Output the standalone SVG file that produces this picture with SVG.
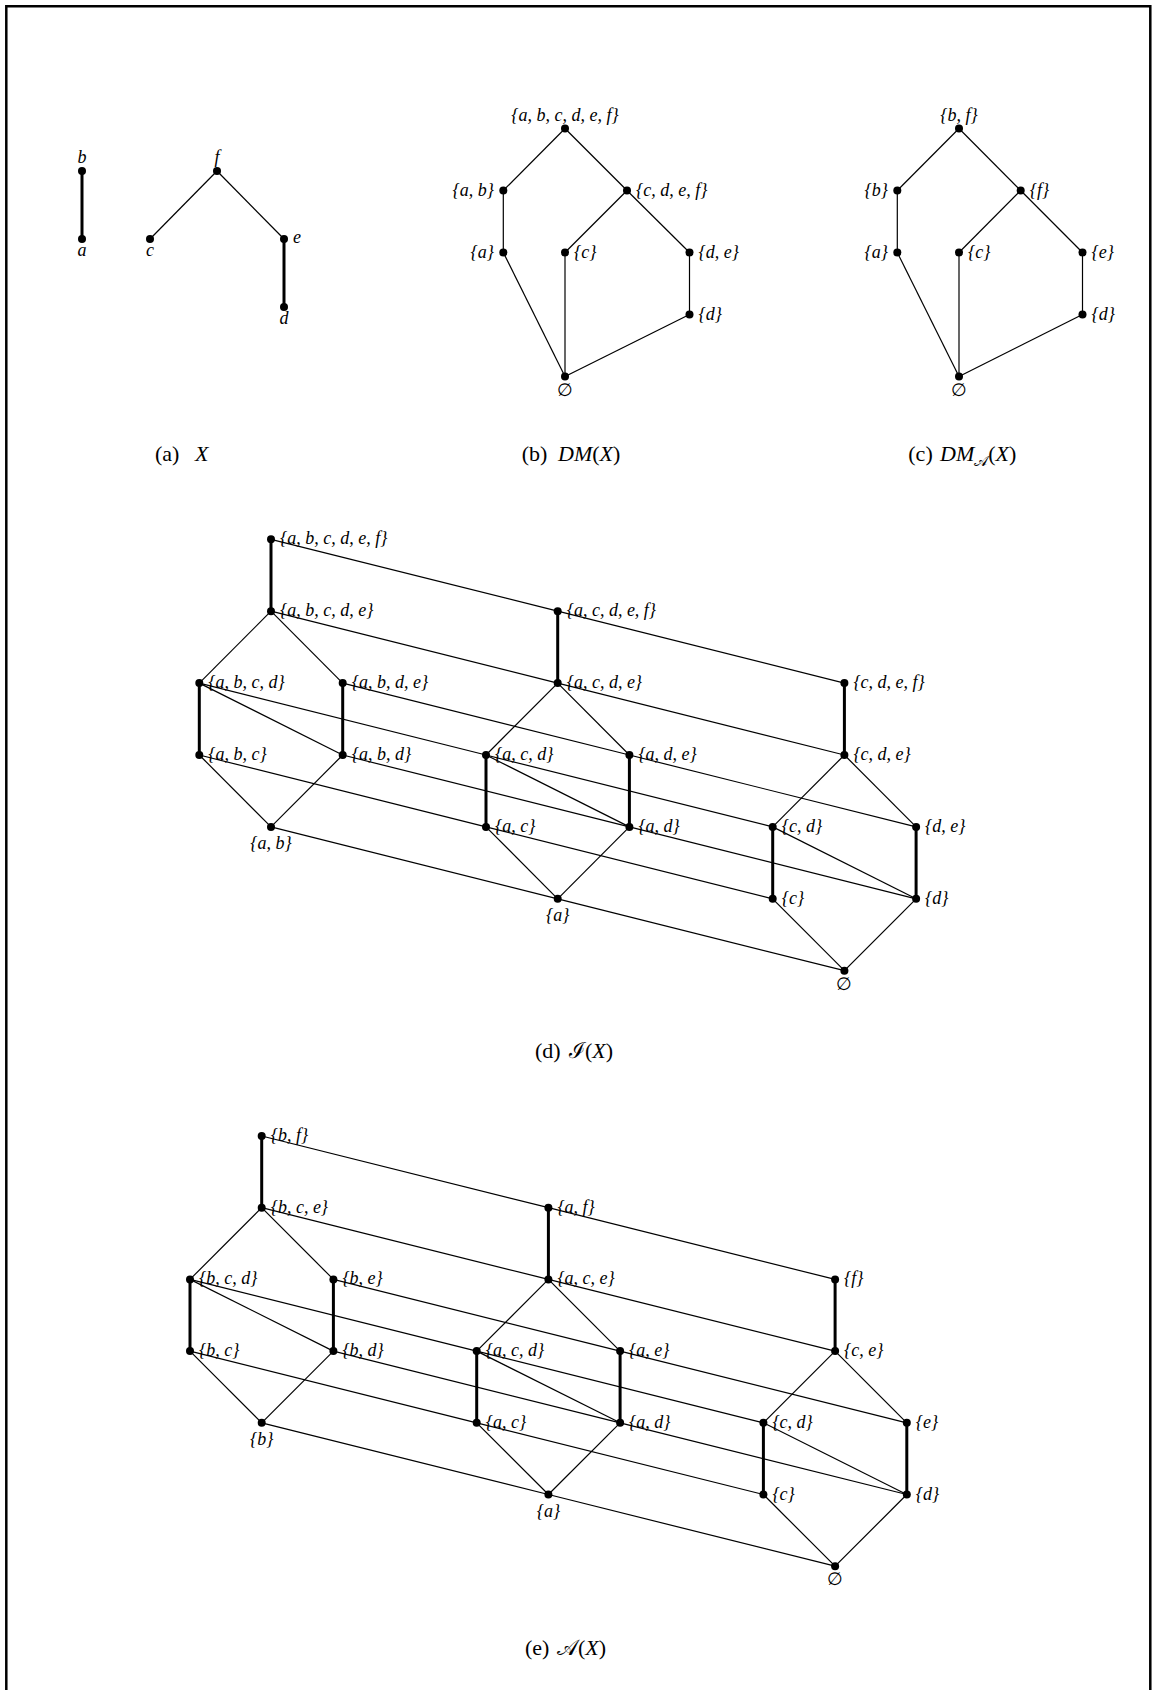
<svg xmlns="http://www.w3.org/2000/svg" width="1156" height="1690" viewBox="0 0 1156 1690">
<style>
.fr{fill:none;stroke:#000;stroke-width:2.5}
.t{stroke:#000;stroke-width:1.2;fill:none}
.k{stroke:#000;stroke-width:3;fill:none}
circle{fill:#000}
text{font-family:"Liberation Serif","DejaVu Serif",serif;fill:#000}
.l{font-size:18px;font-style:italic}
.r{text-anchor:end}
.m{text-anchor:middle}
.e{font-size:18px;font-style:normal}
.cap{font-size:22px}
.i{font-style:italic}
.s{font-size:15px}
</style>
<rect width="1156" height="1690" fill="#fff"/>
<path class="fr" d="M6.3,1692 V6.3 H1150.3 V1692"/>

<g id="connectors">
<!-- panel a -->
<line class="k" x1="82" y1="171" x2="82" y2="239"/>
<line class="t" x1="217" y1="171" x2="150" y2="239"/>
<line class="t" x1="217" y1="171" x2="284" y2="239"/>
<line class="k" x1="284" y1="239" x2="284" y2="307"/>
<!-- panel b -->
<line class="t" x1="565" y1="128.5" x2="503.3" y2="190.5"/>
<line class="t" x1="565" y1="128.5" x2="627" y2="190.5"/>
<line class="t" x1="503.3" y1="190.5" x2="503.3" y2="252.5"/>
<line class="t" x1="627" y1="190.5" x2="565" y2="252.5"/>
<line class="t" x1="627" y1="190.5" x2="689.5" y2="252.5"/>
<line class="t" x1="689.5" y1="252.5" x2="689.5" y2="314.5"/>
<line class="t" x1="503.3" y1="252.5" x2="565" y2="376.5"/>
<line class="t" x1="565" y1="252.5" x2="565" y2="376.5"/>
<line class="t" x1="689.5" y1="314.5" x2="565" y2="376.5"/>
<!-- panel c -->
<line class="t" x1="959" y1="128.5" x2="897.3" y2="190.5"/>
<line class="t" x1="959" y1="128.5" x2="1020.7" y2="190.5"/>
<line class="t" x1="897.3" y1="190.5" x2="897.3" y2="252.5"/>
<line class="t" x1="1020.7" y1="190.5" x2="959" y2="252.5"/>
<line class="t" x1="1020.7" y1="190.5" x2="1082.5" y2="252.5"/>
<line class="t" x1="1082.5" y1="252.5" x2="1082.5" y2="314.5"/>
<line class="t" x1="897.3" y1="252.5" x2="959" y2="376.5"/>
<line class="t" x1="959" y1="252.5" x2="959" y2="376.5"/>
<line class="t" x1="1082.5" y1="314.5" x2="959" y2="376.5"/>
<!-- panel d block 1 -->
<line class="k" x1="271" y1="539.3" x2="271" y2="611.2"/>
<line class="t" x1="271" y1="611.2" x2="199.3" y2="683.1"/>
<line class="t" x1="271" y1="611.2" x2="342.7" y2="683.1"/>
<line class="k" x1="199.3" y1="683.1" x2="199.3" y2="755"/>
<line class="k" x1="342.7" y1="683.1" x2="342.7" y2="755"/>
<line class="t" x1="199.3" y1="683.1" x2="342.7" y2="755"/>
<line class="t" x1="199.3" y1="755" x2="271" y2="826.9"/>
<line class="t" x1="342.7" y1="755" x2="271" y2="826.9"/>
<!-- panel d block 2 -->
<line class="k" x1="557.7" y1="611.2" x2="557.7" y2="683.1"/>
<line class="t" x1="557.7" y1="683.1" x2="486" y2="755"/>
<line class="t" x1="557.7" y1="683.1" x2="629.4" y2="755"/>
<line class="k" x1="486" y1="755" x2="486" y2="826.9"/>
<line class="k" x1="629.4" y1="755" x2="629.4" y2="826.9"/>
<line class="t" x1="486" y1="755" x2="629.4" y2="826.9"/>
<line class="t" x1="486" y1="826.9" x2="557.7" y2="898.8"/>
<line class="t" x1="629.4" y1="826.9" x2="557.7" y2="898.8"/>
<!-- panel d block 3 -->
<line class="k" x1="844.4" y1="683.1" x2="844.4" y2="755"/>
<line class="t" x1="844.4" y1="755" x2="772.7" y2="826.9"/>
<line class="t" x1="844.4" y1="755" x2="916.1" y2="826.9"/>
<line class="k" x1="772.7" y1="826.9" x2="772.7" y2="898.8"/>
<line class="k" x1="916.1" y1="826.9" x2="916.1" y2="898.8"/>
<line class="t" x1="772.7" y1="826.9" x2="916.1" y2="898.8"/>
<line class="t" x1="772.7" y1="898.8" x2="844.4" y2="970.7"/>
<line class="t" x1="916.1" y1="898.8" x2="844.4" y2="970.7"/>
<!-- panel d cross -->
<line class="t" x1="271" y1="539.3" x2="557.7" y2="611.2"/>
<line class="t" x1="271" y1="611.2" x2="557.7" y2="683.1"/>
<line class="t" x1="199.3" y1="683.1" x2="486" y2="755"/>
<line class="t" x1="342.7" y1="683.1" x2="629.4" y2="755"/>
<line class="t" x1="199.3" y1="755" x2="486" y2="826.9"/>
<line class="t" x1="342.7" y1="755" x2="629.4" y2="826.9"/>
<line class="t" x1="271" y1="826.9" x2="557.7" y2="898.8"/>
<line class="t" x1="557.7" y1="611.2" x2="844.4" y2="683.1"/>
<line class="t" x1="557.7" y1="683.1" x2="844.4" y2="755"/>
<line class="t" x1="486" y1="755" x2="772.7" y2="826.9"/>
<line class="t" x1="629.4" y1="755" x2="916.1" y2="826.9"/>
<line class="t" x1="486" y1="826.9" x2="772.7" y2="898.8"/>
<line class="t" x1="629.4" y1="826.9" x2="916.1" y2="898.8"/>
<line class="t" x1="557.7" y1="898.8" x2="844.4" y2="970.7"/>
<!-- panel e block 1 -->
<line class="k" x1="261.7" y1="1136" x2="261.7" y2="1207.7"/>
<line class="t" x1="261.7" y1="1207.7" x2="190" y2="1279.4"/>
<line class="t" x1="261.7" y1="1207.7" x2="333.4" y2="1279.4"/>
<line class="k" x1="190" y1="1279.4" x2="190" y2="1351.1"/>
<line class="k" x1="333.4" y1="1279.4" x2="333.4" y2="1351.1"/>
<line class="t" x1="190" y1="1279.4" x2="333.4" y2="1351.1"/>
<line class="t" x1="190" y1="1351.1" x2="261.7" y2="1422.8"/>
<line class="t" x1="333.4" y1="1351.1" x2="261.7" y2="1422.8"/>
<!-- panel e block 2 -->
<line class="k" x1="548.4" y1="1207.7" x2="548.4" y2="1279.4"/>
<line class="t" x1="548.4" y1="1279.4" x2="476.7" y2="1351.1"/>
<line class="t" x1="548.4" y1="1279.4" x2="620.1" y2="1351.1"/>
<line class="k" x1="476.7" y1="1351.1" x2="476.7" y2="1422.8"/>
<line class="k" x1="620.1" y1="1351.1" x2="620.1" y2="1422.8"/>
<line class="t" x1="476.7" y1="1351.1" x2="620.1" y2="1422.8"/>
<line class="t" x1="476.7" y1="1422.8" x2="548.4" y2="1494.5"/>
<line class="t" x1="620.1" y1="1422.8" x2="548.4" y2="1494.5"/>
<!-- panel e block 3 -->
<line class="k" x1="835.1" y1="1279.4" x2="835.1" y2="1351.1"/>
<line class="t" x1="835.1" y1="1351.1" x2="763.4" y2="1422.8"/>
<line class="t" x1="835.1" y1="1351.1" x2="906.8" y2="1422.8"/>
<line class="k" x1="763.4" y1="1422.8" x2="763.4" y2="1494.5"/>
<line class="k" x1="906.8" y1="1422.8" x2="906.8" y2="1494.5"/>
<line class="t" x1="763.4" y1="1422.8" x2="906.8" y2="1494.5"/>
<line class="t" x1="763.4" y1="1494.5" x2="835.1" y2="1566.2"/>
<line class="t" x1="906.8" y1="1494.5" x2="835.1" y2="1566.2"/>
<!-- panel e cross -->
<line class="t" x1="261.7" y1="1136" x2="548.4" y2="1207.7"/>
<line class="t" x1="261.7" y1="1207.7" x2="548.4" y2="1279.4"/>
<line class="t" x1="190" y1="1279.4" x2="476.7" y2="1351.1"/>
<line class="t" x1="333.4" y1="1279.4" x2="620.1" y2="1351.1"/>
<line class="t" x1="190" y1="1351.1" x2="476.7" y2="1422.8"/>
<line class="t" x1="333.4" y1="1351.1" x2="620.1" y2="1422.8"/>
<line class="t" x1="261.7" y1="1422.8" x2="548.4" y2="1494.5"/>
<line class="t" x1="548.4" y1="1207.7" x2="835.1" y2="1279.4"/>
<line class="t" x1="548.4" y1="1279.4" x2="835.1" y2="1351.1"/>
<line class="t" x1="476.7" y1="1351.1" x2="763.4" y2="1422.8"/>
<line class="t" x1="620.1" y1="1351.1" x2="906.8" y2="1422.8"/>
<line class="t" x1="476.7" y1="1422.8" x2="763.4" y2="1494.5"/>
<line class="t" x1="620.1" y1="1422.8" x2="906.8" y2="1494.5"/>
<line class="t" x1="548.4" y1="1494.5" x2="835.1" y2="1566.2"/>
</g>

<!-- panel a nodes -->
<g id="a-b"><circle cx="82" cy="171" r="4"/><text class="l m" x="82" y="163">b</text></g>
<g id="a-a"><circle cx="82" cy="239" r="4"/><text class="l m" x="82" y="256">a</text></g>
<g id="a-c"><circle cx="150" cy="239" r="4"/><text class="l m" x="150" y="256">c</text></g>
<g id="a-f"><circle cx="217" cy="171" r="4"/><text class="l m" x="217" y="163">f</text></g>
<g id="a-e"><circle cx="284" cy="239" r="4"/><text class="l" x="293" y="243">e</text></g>
<g id="a-d"><circle cx="284" cy="307" r="4"/><text class="l m" x="284" y="324">d</text></g>

<!-- panel b nodes -->
<g id="b-abcdef"><circle cx="565" cy="128.5" r="4"/><text class="l m" x="565" y="120.5">{a, b, c, d, e, f}</text></g>
<g id="b-ab"><circle cx="503.3" cy="190.5" r="4"/><text class="l r" x="494" y="195.5">{a, b}</text></g>
<g id="b-cdef"><circle cx="627" cy="190.5" r="4"/><text class="l" x="636" y="195.5">{c, d, e, f}</text></g>
<g id="b-a"><circle cx="503.3" cy="252.5" r="4"/><text class="l r" x="494" y="257.5">{a}</text></g>
<g id="b-c"><circle cx="565" cy="252.5" r="4"/><text class="l" x="574" y="257.5">{c}</text></g>
<g id="b-de"><circle cx="689.5" cy="252.5" r="4"/><text class="l" x="698.5" y="257.5">{d, e}</text></g>
<g id="b-d"><circle cx="689.5" cy="314.5" r="4"/><text class="l" x="698.5" y="319.5">{d}</text></g>
<g id="b-empty"><circle cx="565" cy="376.5" r="4"/><text class="e m" x="565" y="395.5">∅</text></g>

<!-- panel c nodes -->
<g id="c-bf"><circle cx="959" cy="128.5" r="4"/><text class="l m" x="959" y="120.5">{b, f}</text></g>
<g id="c-b"><circle cx="897.3" cy="190.5" r="4"/><text class="l r" x="888" y="195.5">{b}</text></g>
<g id="c-f"><circle cx="1020.7" cy="190.5" r="4"/><text class="l" x="1029.7" y="195.5">{f}</text></g>
<g id="c-a"><circle cx="897.3" cy="252.5" r="4"/><text class="l r" x="888" y="257.5">{a}</text></g>
<g id="c-c"><circle cx="959" cy="252.5" r="4"/><text class="l" x="968" y="257.5">{c}</text></g>
<g id="c-e"><circle cx="1082.5" cy="252.5" r="4"/><text class="l" x="1091.5" y="257.5">{e}</text></g>
<g id="c-d"><circle cx="1082.5" cy="314.5" r="4"/><text class="l" x="1091.5" y="319.5">{d}</text></g>
<g id="c-empty"><circle cx="959" cy="376.5" r="4"/><text class="e m" x="959" y="395.5">∅</text></g>

<!-- panel d nodes -->
<g id="d-abcdef"><circle cx="271" cy="539.3" r="4"/><text class="l" x="280" y="544.3">{a, b, c, d, e, f}</text></g>
<g id="d-abcde"><circle cx="271" cy="611.2" r="4"/><text class="l" x="280" y="616.2">{a, b, c, d, e}</text></g>
<g id="d-abcd"><circle cx="199.3" cy="683.1" r="4"/><text class="l" x="208.3" y="688.1">{a, b, c, d}</text></g>
<g id="d-abde"><circle cx="342.7" cy="683.1" r="4"/><text class="l" x="351.7" y="688.1">{a, b, d, e}</text></g>
<g id="d-abc"><circle cx="199.3" cy="755" r="4"/><text class="l" x="208.3" y="760">{a, b, c}</text></g>
<g id="d-abd"><circle cx="342.7" cy="755" r="4"/><text class="l" x="351.7" y="760">{a, b, d}</text></g>
<g id="d-ab"><circle cx="271" cy="826.9" r="4"/><text class="l m" x="271" y="848.9">{a, b}</text></g>
<g id="d-acdef"><circle cx="557.7" cy="611.2" r="4"/><text class="l" x="566.7" y="616.2">{a, c, d, e, f}</text></g>
<g id="d-acde"><circle cx="557.7" cy="683.1" r="4"/><text class="l" x="566.7" y="688.1">{a, c, d, e}</text></g>
<g id="d-acd"><circle cx="486" cy="755" r="4"/><text class="l" x="495" y="760">{a, c, d}</text></g>
<g id="d-ade"><circle cx="629.4" cy="755" r="4"/><text class="l" x="638.4" y="760">{a, d, e}</text></g>
<g id="d-ac"><circle cx="486" cy="826.9" r="4"/><text class="l" x="495" y="831.9">{a, c}</text></g>
<g id="d-ad"><circle cx="629.4" cy="826.9" r="4"/><text class="l" x="638.4" y="831.9">{a, d}</text></g>
<g id="d-a"><circle cx="557.7" cy="898.8" r="4"/><text class="l m" x="557.7" y="920.8">{a}</text></g>
<g id="d-cdef"><circle cx="844.4" cy="683.1" r="4"/><text class="l" x="853.4" y="688.1">{c, d, e, f}</text></g>
<g id="d-cde"><circle cx="844.4" cy="755" r="4"/><text class="l" x="853.4" y="760">{c, d, e}</text></g>
<g id="d-cd"><circle cx="772.7" cy="826.9" r="4"/><text class="l" x="781.7" y="831.9">{c, d}</text></g>
<g id="d-de"><circle cx="916.1" cy="826.9" r="4"/><text class="l" x="925.1" y="831.9">{d, e}</text></g>
<g id="d-c"><circle cx="772.7" cy="898.8" r="4"/><text class="l" x="781.7" y="903.8">{c}</text></g>
<g id="d-d"><circle cx="916.1" cy="898.8" r="4"/><text class="l" x="925.1" y="903.8">{d}</text></g>
<g id="d-empty"><circle cx="844.4" cy="970.7" r="4"/><text class="e m" x="844.4" y="989.7">∅</text></g>

<!-- panel e nodes -->
<g id="e-bf"><circle cx="261.7" cy="1136" r="4"/><text class="l" x="270.7" y="1141">{b, f}</text></g>
<g id="e-bce"><circle cx="261.7" cy="1207.7" r="4"/><text class="l" x="270.7" y="1212.7">{b, c, e}</text></g>
<g id="e-bcd"><circle cx="190" cy="1279.4" r="4"/><text class="l" x="199" y="1284.4">{b, c, d}</text></g>
<g id="e-be"><circle cx="333.4" cy="1279.4" r="4"/><text class="l" x="342.4" y="1284.4">{b, e}</text></g>
<g id="e-bc"><circle cx="190" cy="1351.1" r="4"/><text class="l" x="199" y="1356.1">{b, c}</text></g>
<g id="e-bd"><circle cx="333.4" cy="1351.1" r="4"/><text class="l" x="342.4" y="1356.1">{b, d}</text></g>
<g id="e-b"><circle cx="261.7" cy="1422.8" r="4"/><text class="l m" x="261.7" y="1444.8">{b}</text></g>
<g id="e-af"><circle cx="548.4" cy="1207.7" r="4"/><text class="l" x="557.4" y="1212.7">{a, f}</text></g>
<g id="e-ace"><circle cx="548.4" cy="1279.4" r="4"/><text class="l" x="557.4" y="1284.4">{a, c, e}</text></g>
<g id="e-acd"><circle cx="476.7" cy="1351.1" r="4"/><text class="l" x="485.7" y="1356.1">{a, c, d}</text></g>
<g id="e-ae"><circle cx="620.1" cy="1351.1" r="4"/><text class="l" x="629.1" y="1356.1">{a, e}</text></g>
<g id="e-ac"><circle cx="476.7" cy="1422.8" r="4"/><text class="l" x="485.7" y="1427.8">{a, c}</text></g>
<g id="e-ad"><circle cx="620.1" cy="1422.8" r="4"/><text class="l" x="629.1" y="1427.8">{a, d}</text></g>
<g id="e-a"><circle cx="548.4" cy="1494.5" r="4"/><text class="l m" x="548.4" y="1516.5">{a}</text></g>
<g id="e-f"><circle cx="835.1" cy="1279.4" r="4"/><text class="l" x="844.1" y="1284.4">{f}</text></g>
<g id="e-ce"><circle cx="835.1" cy="1351.1" r="4"/><text class="l" x="844.1" y="1356.1">{c, e}</text></g>
<g id="e-cd"><circle cx="763.4" cy="1422.8" r="4"/><text class="l" x="772.4" y="1427.8">{c, d}</text></g>
<g id="e-e"><circle cx="906.8" cy="1422.8" r="4"/><text class="l" x="915.8" y="1427.8">{e}</text></g>
<g id="e-c"><circle cx="763.4" cy="1494.5" r="4"/><text class="l" x="772.4" y="1499.5">{c}</text></g>
<g id="e-d"><circle cx="906.8" cy="1494.5" r="4"/><text class="l" x="915.8" y="1499.5">{d}</text></g>
<g id="e-empty"><circle cx="835.1" cy="1566.2" r="4"/><text class="e m" x="835.1" y="1585.2">∅</text></g>

<!-- captions -->
<g id="captions">
<text class="cap" x="155" y="461">(a)<tspan class="i" x="195">X</tspan></text>
<text class="cap" x="521.7" y="461">(b)<tspan x="558"><tspan class="i">DM</tspan>(<tspan class="i">X</tspan>)</tspan></text>
<text class="cap" x="908.3" y="461">(c)<tspan x="940"><tspan class="i">DM</tspan><tspan class="s" dy="5">𝒜</tspan><tspan dy="-5">(</tspan><tspan class="i">X</tspan>)</tspan></text>
<text class="cap" x="535" y="1058">(d)<tspan x="569">ℐ(<tspan class="i">X</tspan>)</tspan></text>
<text class="cap" x="525" y="1655">(e)<tspan x="557">𝒜(<tspan class="i">X</tspan>)</tspan></text>
</g>
</svg>
